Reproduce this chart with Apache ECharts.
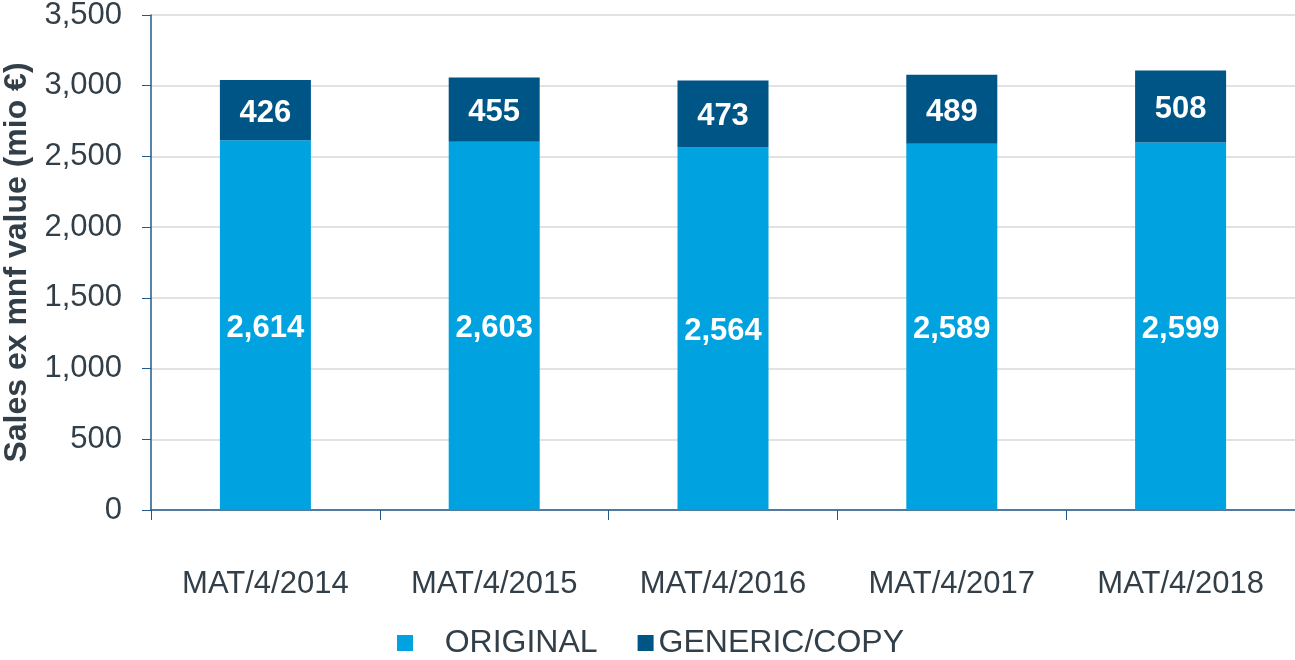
<!DOCTYPE html>
<html>
<head>
    <meta charset="utf-8">
    <title>Sales by type</title>
    <script src="https://cdn.jsdelivr.net/npm/echarts@6/dist/echarts.min.js"></script>
    <style>
        html, body { margin: 0; padding: 0; background: #fff; }
    </style>
</head>
<body>
<div id="main" style="width: 1295px;height:660px;"></div>
<script type="text/javascript">
    var categories = ['MAT/4/2014', 'MAT/4/2015', 'MAT/4/2016', 'MAT/4/2017', 'MAT/4/2018'];
    var original = [2614, 2603, 2564, 2589, 2599];
    var generic = [426, 455, 473, 489, 508];

    var textColor = '#333f48';
    var axisColor = '#1f5a8a';

    var myChart = echarts.init(document.getElementById('main'));

    function fmt(p) {
        return p.value.toLocaleString('en-US');
    }

    var option = {
        animation: false,
        textStyle: { fontFamily: 'Liberation Sans, Arial, sans-serif' },
        grid: { left: 151, right: 0, top: 15, bottom: 150, outerBoundsMode: 'none' },
        legend: {
            data: ['ORIGINAL', 'GENERIC/COPY'],
            top: 622,
            left: 392,
            icon: 'rect',
            itemWidth: 16,
            itemHeight: 16,
            itemGap: 40,
            textStyle: { fontSize: 32, color: textColor },
            formatter: function (name) {
                return name === 'ORIGINAL' ? '   ' + name : name;
            }
        },
        xAxis: {
            type: 'category',
            data: categories,
            axisLine: { lineStyle: { color: axisColor, width: 1.5 } },
            axisTick: { show: true, length: 10, lineStyle: { color: axisColor } },
            axisLabel: { fontSize: 31, color: textColor, margin: 59 }
        },
        yAxis: {
            type: 'value',
            min: 0,
            max: 3500,
            interval: 500,
            name: 'Sales ex mnf value (mio €)',
            nameLocation: 'middle',
            nameGap: 106,
            nameTextStyle: { fontSize: 32, fontWeight: 'bold', color: textColor },
            axisLine: { show: true, lineStyle: { color: axisColor, width: 1.5 } },
            axisTick: { show: true, length: 9, lineStyle: { color: axisColor } },
            axisLabel: {
                fontSize: 31, color: textColor, margin: 29,
                formatter: function (v) { return v.toLocaleString('en-US'); }
            },
            splitLine: { lineStyle: { color: '#d9d9d9', width: 1.5 } }
        },
        series: [{
            name: 'ORIGINAL',
            type: 'bar',
            stack: 'total',
            data: original,
            barWidth: 91,
            itemStyle: { color: '#00a3e0' },
            label: {
                show: true, position: 'inside', formatter: fmt, offset: [0, 3],
                color: '#fff', fontSize: 31, fontWeight: 'bold'
            }
        }, {
            name: 'GENERIC/COPY',
            type: 'bar',
            stack: 'total',
            data: generic,
            barWidth: 91,
            itemStyle: { color: '#005587' },
            label: {
                show: true, position: 'inside', formatter: fmt, offset: [0, 3],
                color: '#fff', fontSize: 31, fontWeight: 'bold'
            }
        }]
    };

    myChart.setOption(option);
</script>
</body>
</html>
